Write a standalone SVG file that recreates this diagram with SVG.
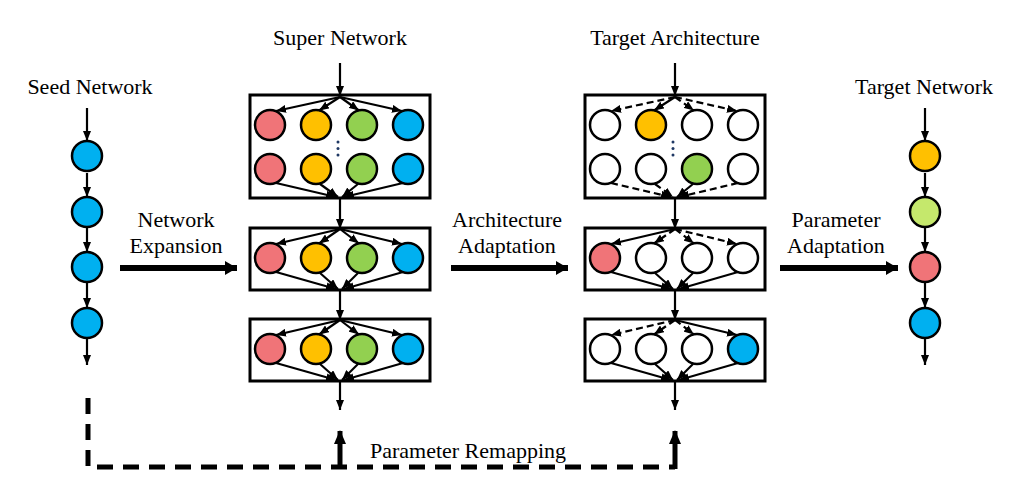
<svg xmlns="http://www.w3.org/2000/svg" width="1019" height="488" viewBox="0 0 1019 488">
<style>
.t{font-family:"Liberation Serif","Times New Roman",serif;font-size:22px;fill:#000;text-anchor:middle}
.box{fill:#fff;stroke:#000;stroke-width:3}
.n{stroke:#000;stroke-width:2.5}
.a{stroke:#000;stroke-width:2.2;fill:none;marker-end:url(#ah)}
.d{stroke-dasharray:7 4}
.big{stroke:#000;stroke-width:6;fill:none;marker-end:url(#bh)}
.r{fill:#F07478}.o{fill:#FFC000}.g{fill:#92D050}.b{fill:#00B0F0}.lg{fill:#C5E86C}.w{fill:#fff}
.dot{fill:#1F3864}
</style>
<defs>
<marker id="ah" markerUnits="userSpaceOnUse" markerWidth="10" markerHeight="8" refX="10" refY="4" orient="auto"><path d="M0,0 L10,4 L0,8 z" fill="#000"/></marker>
<marker id="bh" markerUnits="userSpaceOnUse" markerWidth="12" markerHeight="14" refX="12" refY="7" orient="auto"><path d="M0,0 L12,7 L0,14 z" fill="#000"/></marker>
<marker id="uh" markerUnits="userSpaceOnUse" markerWidth="14" markerHeight="12" refX="13" refY="6" orient="auto"><path d="M0,0 L14,6 L0,12 z" fill="#000"/></marker>
</defs>

<g id="labels">
<text class="t" x="90" y="94">Seed Network</text>
<text class="t" x="340" y="45">Super Network</text>
<text class="t" x="675" y="45">Target Architecture</text>
<text class="t" x="924" y="94">Target Network</text>
<text class="t" x="176" y="227">Network</text>
<text class="t" x="176" y="253">Expansion</text>
<text class="t" x="507" y="227">Architecture</text>
<text class="t" x="507" y="253">Adaptation</text>
<text class="t" x="836" y="227">Parameter</text>
<text class="t" x="836" y="253">Adaptation</text>
<text class="t" x="468" y="458">Parameter Remapping</text>
</g>

<g id="seed-network">
<circle class="n b" cx="87" cy="156" r="15"/>
<circle class="n b" cx="87" cy="212" r="15"/>
<circle class="n b" cx="87" cy="267" r="15"/>
<circle class="n b" cx="87" cy="323" r="15"/>
</g>

<g id="target-network">
<circle class="n o" cx="925" cy="156" r="15"/>
<circle class="n lg" cx="925" cy="212" r="15"/>
<circle class="n r" cx="925" cy="267" r="15"/>
<circle class="n b" cx="925" cy="323" r="15"/>
</g>

<g id="super-network">
<rect class="box" x="250" y="95" width="180" height="103"/>
<rect class="box" x="250" y="228" width="180" height="62"/>
<rect class="box" x="250" y="319" width="180" height="62"/>
<circle class="n r" cx="270" cy="125" r="15"/>
<circle class="n o" cx="316" cy="125" r="15"/>
<circle class="n g" cx="362" cy="125" r="15"/>
<circle class="n b" cx="408" cy="125" r="15"/>
<circle class="n r" cx="270" cy="169" r="15"/>
<circle class="n o" cx="316" cy="169" r="15"/>
<circle class="n g" cx="362" cy="169" r="15"/>
<circle class="n b" cx="408" cy="169" r="15"/>
<circle class="dot" cx="338" cy="142" r="1.5"/>
<circle class="dot" cx="338" cy="148.5" r="1.5"/>
<circle class="dot" cx="338" cy="155" r="1.5"/>
<circle class="n r" cx="270" cy="258" r="15"/>
<circle class="n o" cx="316" cy="258" r="15"/>
<circle class="n g" cx="362" cy="258" r="15"/>
<circle class="n b" cx="408" cy="258" r="15"/>
<circle class="n r" cx="270" cy="349" r="15"/>
<circle class="n o" cx="316" cy="349" r="15"/>
<circle class="n g" cx="362" cy="349" r="15"/>
<circle class="n b" cx="408" cy="349" r="15"/>
</g>

<g id="target-architecture">
<rect class="box" x="585" y="95" width="180" height="103"/>
<rect class="box" x="585" y="228" width="180" height="62"/>
<rect class="box" x="585" y="319" width="180" height="62"/>
<circle class="n w" cx="605" cy="125" r="15"/>
<circle class="n o" cx="651" cy="125" r="15"/>
<circle class="n w" cx="697" cy="125" r="15"/>
<circle class="n w" cx="743" cy="125" r="15"/>
<circle class="n w" cx="605" cy="169" r="15"/>
<circle class="n w" cx="651" cy="169" r="15"/>
<circle class="n g" cx="697" cy="169" r="15"/>
<circle class="n w" cx="743" cy="169" r="15"/>
<circle class="dot" cx="673" cy="142" r="1.5"/>
<circle class="dot" cx="673" cy="148.5" r="1.5"/>
<circle class="dot" cx="673" cy="155" r="1.5"/>
<circle class="n r" cx="605" cy="258" r="15"/>
<circle class="n w" cx="651" cy="258" r="15"/>
<circle class="n w" cx="697" cy="258" r="15"/>
<circle class="n w" cx="743" cy="258" r="15"/>
<circle class="n w" cx="605" cy="349" r="15"/>
<circle class="n w" cx="651" cy="349" r="15"/>
<circle class="n w" cx="697" cy="349" r="15"/>
<circle class="n b" cx="743" cy="349" r="15"/>
</g>

<g id="connectors">
<line class="a" x1="87" y1="108" x2="87" y2="141"/>
<line class="a" x1="87" y1="173" x2="87" y2="197"/>
<line class="a" x1="87" y1="227" x2="87" y2="252"/>
<line class="a" x1="87" y1="282" x2="87" y2="308"/>
<line class="a" x1="87" y1="338" x2="87" y2="365"/>
<line class="a" x1="925" y1="108" x2="925" y2="141"/>
<line class="a" x1="925" y1="173" x2="925" y2="197"/>
<line class="a" x1="925" y1="227" x2="925" y2="252"/>
<line class="a" x1="925" y1="282" x2="925" y2="308"/>
<line class="a" x1="925" y1="338" x2="925" y2="365"/>

<line class="a" x1="340" y1="63" x2="340" y2="96"/>
<line class="a" x1="340" y1="198" x2="340" y2="229"/>
<line class="a" x1="340" y1="290" x2="340" y2="320"/>
<line class="a" x1="340" y1="381" x2="340" y2="410"/>
<line class="a" x1="340" y1="97" x2="276" y2="111"/>
<line class="a" x1="340" y1="97" x2="319" y2="110.5"/>
<line class="a" x1="340" y1="97" x2="359" y2="110.5"/>
<line class="a" x1="340" y1="97" x2="402" y2="111"/>
<line class="a" x1="276" y1="183" x2="336" y2="197"/>
<line class="a" x1="320" y1="184" x2="338" y2="197"/>
<line class="a" x1="358" y1="184" x2="342" y2="197"/>
<line class="a" x1="403" y1="183" x2="344" y2="197"/>
<line class="a" x1="340" y1="229" x2="276" y2="244"/>
<line class="a" x1="340" y1="229" x2="319" y2="243.5"/>
<line class="a" x1="340" y1="229" x2="359" y2="243.5"/>
<line class="a" x1="340" y1="229" x2="402" y2="244"/>
<line class="a" x1="276" y1="272" x2="336" y2="289"/>
<line class="a" x1="320" y1="273" x2="338" y2="289"/>
<line class="a" x1="358" y1="273" x2="342" y2="289"/>
<line class="a" x1="403" y1="272" x2="344" y2="289"/>
<line class="a" x1="340" y1="320" x2="276" y2="335"/>
<line class="a" x1="340" y1="320" x2="319" y2="334.5"/>
<line class="a" x1="340" y1="320" x2="359" y2="334.5"/>
<line class="a" x1="340" y1="320" x2="402" y2="335"/>
<line class="a" x1="276" y1="363" x2="336" y2="380"/>
<line class="a" x1="320" y1="364" x2="338" y2="380"/>
<line class="a" x1="358" y1="364" x2="342" y2="380"/>
<line class="a" x1="403" y1="363" x2="344" y2="380"/>

<line class="a" x1="675" y1="63" x2="675" y2="96"/>
<line class="a" x1="675" y1="198" x2="675" y2="229"/>
<line class="a" x1="675" y1="290" x2="675" y2="320"/>
<line class="a" x1="675" y1="381" x2="675" y2="410"/>
<line class="a d" x1="675" y1="97" x2="611" y2="111"/>
<line class="a" x1="675" y1="97" x2="654" y2="110.5"/>
<line class="a d" x1="675" y1="97" x2="694" y2="110.5"/>
<line class="a d" x1="675" y1="97" x2="737" y2="111"/>
<line class="a d" x1="611" y1="183" x2="671" y2="197"/>
<line class="a d" x1="655" y1="184" x2="673" y2="197"/>
<line class="a" x1="693" y1="184" x2="677" y2="197"/>
<line class="a d" x1="738" y1="183" x2="679" y2="197"/>
<line class="a" x1="675" y1="229" x2="611" y2="244"/>
<line class="a d" x1="675" y1="229" x2="654" y2="243.5"/>
<line class="a d" x1="675" y1="229" x2="694" y2="243.5"/>
<line class="a d" x1="675" y1="229" x2="737" y2="244"/>
<line class="a" x1="611" y1="272" x2="671" y2="289"/>
<line class="a" x1="655" y1="273" x2="673" y2="289"/>
<line class="a" x1="693" y1="273" x2="677" y2="289"/>
<line class="a" x1="738" y1="272" x2="679" y2="289"/>
<line class="a d" x1="675" y1="320" x2="611" y2="335"/>
<line class="a d" x1="675" y1="320" x2="654" y2="334.5"/>
<line class="a d" x1="675" y1="320" x2="694" y2="334.5"/>
<line class="a" x1="675" y1="320" x2="737" y2="335"/>
<line class="a" x1="611" y1="363" x2="671" y2="380"/>
<line class="a" x1="655" y1="364" x2="673" y2="380"/>
<line class="a" x1="693" y1="364" x2="677" y2="380"/>
<line class="a" x1="738" y1="363" x2="679" y2="380"/>

<line class="big" x1="120" y1="268" x2="237" y2="268"/>
<line class="big" x1="451" y1="268" x2="568" y2="268"/>
<line class="big" x1="780" y1="268" x2="898" y2="268"/>

<path d="M88,398 L88,467 L675,467" fill="none" stroke="#000" stroke-width="5" stroke-dasharray="16 10"/>
<line x1="340" y1="469" x2="340" y2="431" stroke="#000" stroke-width="5" marker-end="url(#uh)"/>
<line x1="675" y1="469" x2="675" y2="431" stroke="#000" stroke-width="5" marker-end="url(#uh)"/>
</g>
</svg>
